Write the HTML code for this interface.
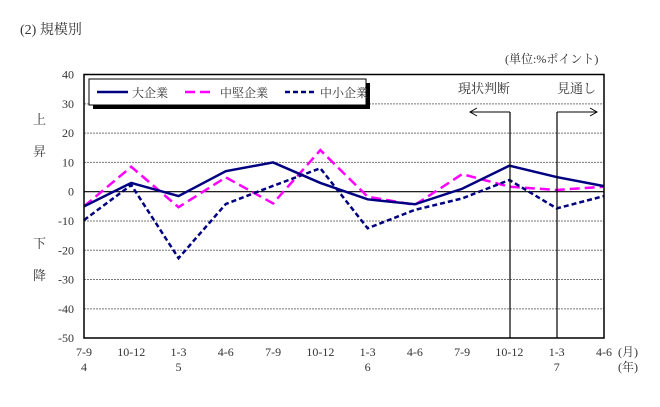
<!DOCTYPE html>
<html><head><meta charset="utf-8"><style>
body{margin:0;background:#fff}
svg text{font-family:"Liberation Serif","Noto Serif CJK SC",serif;fill:#333}
</style></head><body>
<svg width="660" height="402" xmlns="http://www.w3.org/2000/svg">
<text x="20" y="34" font-size="14">(2)  規模別</text>
<text x="505" y="63" font-size="12">(単位:%ポイント)</text>
<text x="33" y="124" font-size="13">上</text>
<text x="33" y="156" font-size="13">昇</text>
<text x="33" y="248" font-size="13">下</text>
<text x="33" y="280" font-size="13">降</text>
<g id="grid"></g>
<g id="yt"></g>
<g id="xt"></g>
<g id="series"></g>
<line x1="510" y1="112" x2="510" y2="338" stroke="#000" stroke-width="1.2"/>
<line x1="557" y1="112" x2="557" y2="338" stroke="#000" stroke-width="1.2"/>
<line x1="470" y1="112" x2="510" y2="112" stroke="#000"/>
<polyline points="477,108 470,112 477,116" fill="none" stroke="#000"/>
<line x1="557" y1="112" x2="597" y2="112" stroke="#000"/>
<polyline points="590,108 597,112 590,116" fill="none" stroke="#000"/>
<text x="458" y="93" font-size="13">現状判断</text>
<text x="557" y="93" font-size="13">見通し</text>
<rect x="93" y="83" width="277" height="26" fill="#000"/>
<rect x="89" y="79" width="277" height="26" fill="#fff" stroke="#000"/>
<g><line x1="97" y1="92" x2="128" y2="92" stroke="#000080" stroke-width="2.5"/><text x="132" y="97" font-size="12">大企業</text></g>
<g><line x1="185" y1="92" x2="215" y2="92" stroke="#ff00ff" stroke-width="2.5" stroke-dasharray="10,5"/><text x="220" y="97" font-size="12">中堅企業</text></g>
<g><line x1="285" y1="92" x2="315" y2="92" stroke="#000080" stroke-width="2.5" stroke-dasharray="5,3"/><text x="320" y="97" font-size="12">中小企業</text></g>
<rect x="84" y="74.5" width="520" height="263.5" fill="none" stroke="#000" stroke-width="1.5"/>
<text x="618" y="356" font-size="12">(月)</text>
<text x="618" y="371" font-size="12">(年)</text>
</svg>
<script>
const categories=["7-9","10-12","1-3","4-6","7-9","10-12","1-3","4-6","7-9","10-12","1-3","4-6"];
const years=["4","","5","","","","6","","","","7",""];
const large=[-5,3,-1.5,7,10,3,-2.6,-4.3,1,8.9,5,1.9];
const mid=[-5,8.5,-5.3,4.9,-4,14.2,-1.7,-4.5,6,1.7,0.6,1.7];
const small=[-9.7,2.3,-22.7,-4.2,2,8,-12.5,-6.2,-2.3,4,-5.7,-1.5];
const yTicks=[40,30,20,10,0,-10,-20,-30,-40,-50];
const NS="http://www.w3.org/2000/svg";
const xs=i=>84+i*47.27;
const y=v=>191.7-v*2.928;
function mk(t,a,p){const e=document.createElementNS(NS,t);for(const k in a)e.setAttribute(k,a[k]);document.getElementById(p).appendChild(e);return e;}
yTicks.forEach(v=>{
 if(v!==40&&v!==-50){const l=mk("line",{x1:84,x2:604,y1:y(v),y2:y(v),stroke:v===0?"#000":"#777","stroke-width":v===0?1.2:1,"stroke-dasharray":v===0?"":"2,1"},"grid");
 
 }
 const t=mk("text",{x:74,y:y(v)+4,"text-anchor":"end","font-size":12},"yt");t.textContent=v;
 
 
});
categories.forEach((c,i)=>{
 const t=mk("text",{x:xs(i),y:356,"text-anchor":"middle","font-size":12},"xt");t.textContent=c;
 
 
 if(years[i]){const u=mk("text",{x:xs(i),y:371,"text-anchor":"middle","font-size":12},"xt");u.textContent=years[i];
 
 }
});
function line(d,col,dash,name){
 const p=mk("polyline",{points:d.map((v,i)=>xs(i)+","+y(v)).join(" "),fill:"none",stroke:col,"stroke-width":2.5,"stroke-dasharray":dash},"series");
 
 
}
line(mid,"#ff00ff","10,5","series-mid");
line(small,"#000080","5,3","series-small");
line(large,"#000080","","series-large");
</script>
</body></html>
